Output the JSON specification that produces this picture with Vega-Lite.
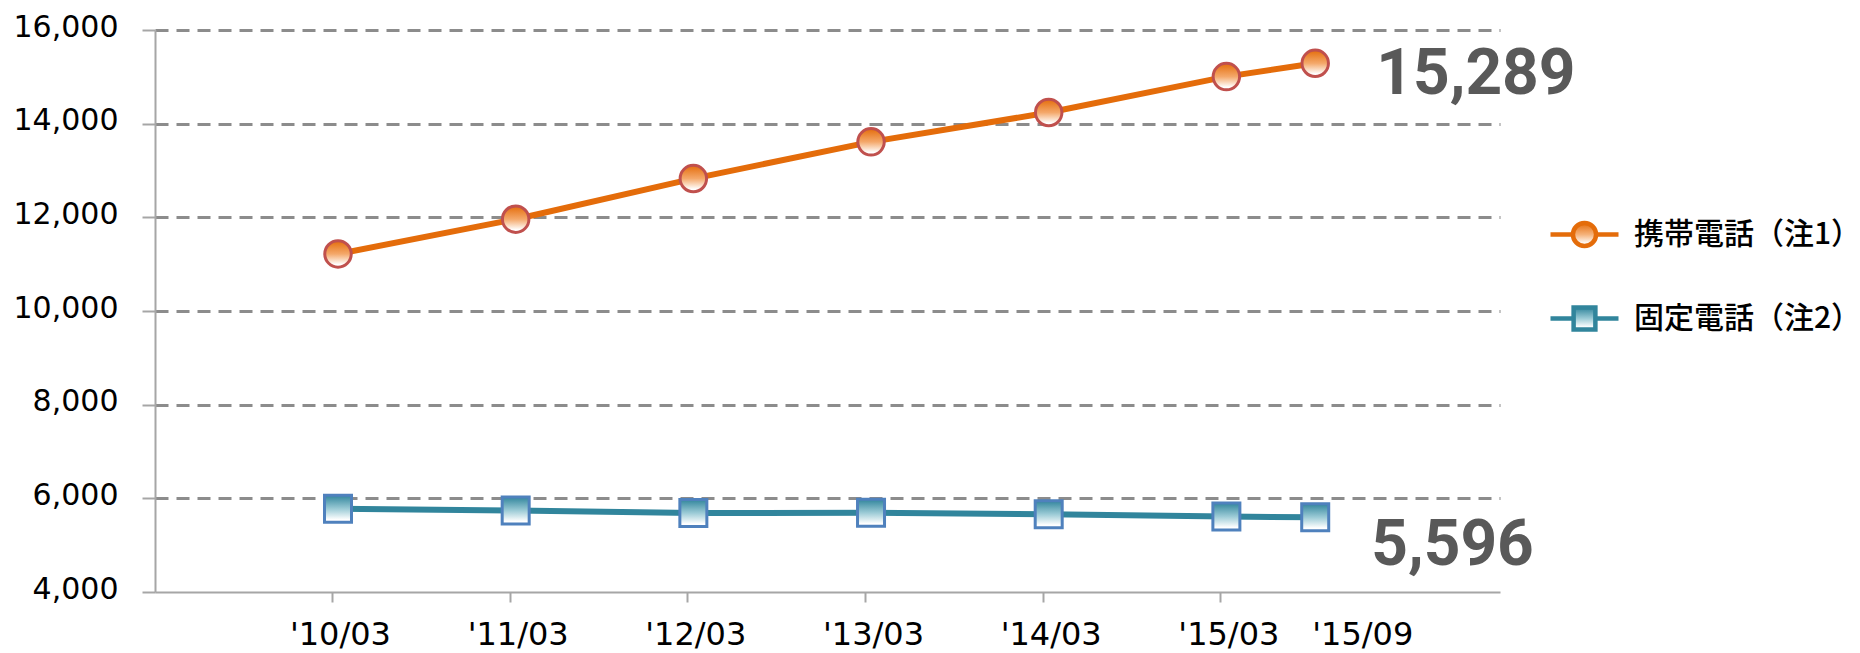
{
  "$schema": "https://vega.github.io/schema/vega-lite/v6.json",
  "width": 1345,
  "height": 562,
  "autosize": {"type": "none"},
  "padding": {"left": 155, "top": 30, "right": 360, "bottom": 61},
  "background": "white",
  "config": {"view": {"stroke": null}},
  "data": {
    "values": [
      {"series": "携帯電話（注1）", "t": 2010, "v": 11218},
      {"series": "携帯電話（注1）", "t": 2011, "v": 11960},
      {"series": "携帯電話（注1）", "t": 2012, "v": 12828},
      {"series": "携帯電話（注1）", "t": 2013, "v": 13612},
      {"series": "携帯電話（注1）", "t": 2014, "v": 14238},
      {"series": "携帯電話（注1）", "t": 2015, "v": 15005},
      {"series": "携帯電話（注1）", "t": 2015.5, "v": 15289},
      {"series": "固定電話（注2）", "t": 2010, "v": 5776},
      {"series": "固定電話（注2）", "t": 2011, "v": 5740},
      {"series": "固定電話（注2）", "t": 2012, "v": 5686},
      {"series": "固定電話（注2）", "t": 2013, "v": 5690},
      {"series": "固定電話（注2）", "t": 2014, "v": 5660},
      {"series": "固定電話（注2）", "t": 2015, "v": 5611},
      {"series": "固定電話（注2）", "t": 2015.5, "v": 5596}
    ]
  },
  "encoding": {
    "x": {
      "field": "t",
      "type": "quantitative",
      "scale": {"domain": [2008.97, 2016.54], "nice": false, "zero": false},
      "axis": {
        "title": null,
        "values": [2008.966, 2009.966, 2010.966, 2011.966, 2012.966, 2013.966, 2014.966, 2015.72],
        "labelExpr": "datum.value < 2009.5 ? '' : datum.value > 2015.5 ? \"'15/09\" : \"'\" + (round(datum.value) - 2000) + '/03'",
        "grid": false,
        "domainColor": "#a6a6a6",
        "domainWidth": 2,
        "tickColor": {"condition": {"test": "datum.value > 2015.5", "value": "transparent"}, "value": "#a6a6a6"},
        "tickWidth": 2,
        "tickSize": 10,
        "labelFont": "DejaVu Sans",
        "labelFontSize": 32,
        "labelColor": "#000000",
        "labelBaseline": "alphabetic",
        "labelPadding": 42,
        "labelOffset": 8,
        "labelAlign": "center",
        "labelFlush": false,
        "labelOverlap": false,
        "zindex": 1
      }
    },
    "y": {
      "field": "v",
      "type": "quantitative",
      "scale": {"domain": [4000, 16000], "nice": false, "zero": false},
      "axis": {
        "title": null,
        "values": [4000, 6000, 8000, 10000, 12000, 14000, 16000],
        "format": ",d",
        "grid": true,
        "gridDash": [13, 8],
        "gridColor": {"condition": {"test": "datum.value == 4000", "value": "transparent"}, "value": "#8c8c8c"},
        "gridWidth": 3,
        "domainColor": "#a6a6a6",
        "domainWidth": 2,
        "tickColor": "#a6a6a6",
        "tickWidth": 2,
        "tickSize": 13,
        "labelFont": "DejaVu Sans",
        "labelFontSize": 30,
        "labelColor": "#000000",
        "labelPadding": 24,
        "labelBaseline": "alphabetic",
        "labelOffset": 6,
        "labelFlush": false,
        "labelOverlap": false
      }
    }
  },
  "layer": [
    {
      "mark": {"type": "line", "strokeWidth": 6},
      "encoding": {
        "color": {
          "field": "series",
          "type": "nominal",
          "scale": {"domain": ["携帯電話（注1）", "固定電話（注2）"], "range": ["#E46C0A", "#31859C"]},
          "legend": {
            "title": null,
            "orient": "none",
            "legendX": 1393,
            "legendY": 168,
            "padding": 0,
            "symbolSize": 4624,
            "symbolStrokeWidth": 4.5,
            "labelFont": "Noto Sans CJK JP",
            "labelFontSize": 30,
            "labelFontWeight": 500,
            "labelColor": "#000000",
            "labelOffset": 13,
            "labelLimit": 400,
            "rowPadding": 26,
            "encode": {
              "symbols": {
                "update": {
                  "shape": {"signal": "datum.value == '携帯電話（注1）' ? 'M-1,0L-0.36,0M0.36,0L1,0M0.34,0A0.34,0.34 0 1 1 -0.34,0A0.34,0.34 0 1 1 0.34,0Z' : 'M-1,0L-0.34,0M0.34,0L1,0M-0.32,-0.32L0.32,-0.32L0.32,0.32L-0.32,0.32Z'"},
                  "fill": {"signal": "datum.value == '携帯電話（注1）' ? {gradient: 'linear', x1: 0, y1: 0, x2: 0, y2: 1, stops: [{offset: 0, color: '#E46C0A'}, {offset: 0.5, color: '#F5B27A'}, {offset: 0.9, color: '#ffffff'}]} : {gradient: 'linear', x1: 0, y1: 0, x2: 0, y2: 1, stops: [{offset: 0, color: '#31859C'}, {offset: 0.5, color: '#9CCBD6'}, {offset: 0.9, color: '#ffffff'}]}"},
                  "strokeWidth": {"value": 4.5},
                  "opacity": {"value": 1}
                }
              }
            }
          }
        }
      }
    },
    {
      "transform": [{"filter": "datum.series == '携帯電話（注1）'"}],
      "mark": {
        "type": "point",
        "shape": "circle",
        "size": 700,
        "filled": true,
        "opacity": 1,
        "fill": {"gradient": "linear", "x1": 0, "y1": 0, "x2": 0, "y2": 1, "stops": [{"offset": 0, "color": "#E46C0A"}, {"offset": 0.5, "color": "#F4A86A"}, {"offset": 0.9, "color": "#ffffff"}]},
        "stroke": "#C0504D",
        "strokeWidth": 3
      }
    },
    {
      "transform": [{"filter": "datum.series == '固定電話（注2）'"}],
      "mark": {
        "type": "point",
        "shape": "square",
        "size": 729,
        "filled": true,
        "opacity": 1,
        "fill": {"gradient": "linear", "x1": 0, "y1": 0, "x2": 0, "y2": 1, "stops": [{"offset": 0, "color": "#31859C"}, {"offset": 0.5, "color": "#9CCBD6"}, {"offset": 0.9, "color": "#ffffff"}]},
        "stroke": "#4F81BD",
        "strokeWidth": 3
      }
    },
    {
      "transform": [{"filter": "datum.t == 2015.5 && datum.series == '携帯電話（注1）'"}],
      "mark": {"type": "text", "font": "Roboto", "fontWeight": "bold", "fontSize": 64, "color": "#595959", "align": "left", "baseline": "alphabetic", "dx": 61, "dy": 31},
      "encoding": {"text": {"field": "v", "type": "quantitative", "format": ","}}
    },
    {
      "transform": [{"filter": "datum.t == 2015.5 && datum.series == '固定電話（注2）'"}],
      "mark": {"type": "text", "font": "Roboto", "fontWeight": "bold", "fontSize": 64, "color": "#595959", "align": "left", "baseline": "alphabetic", "dx": 56, "dy": 48},
      "encoding": {"text": {"field": "v", "type": "quantitative", "format": ","}}
    }
  ]
}
